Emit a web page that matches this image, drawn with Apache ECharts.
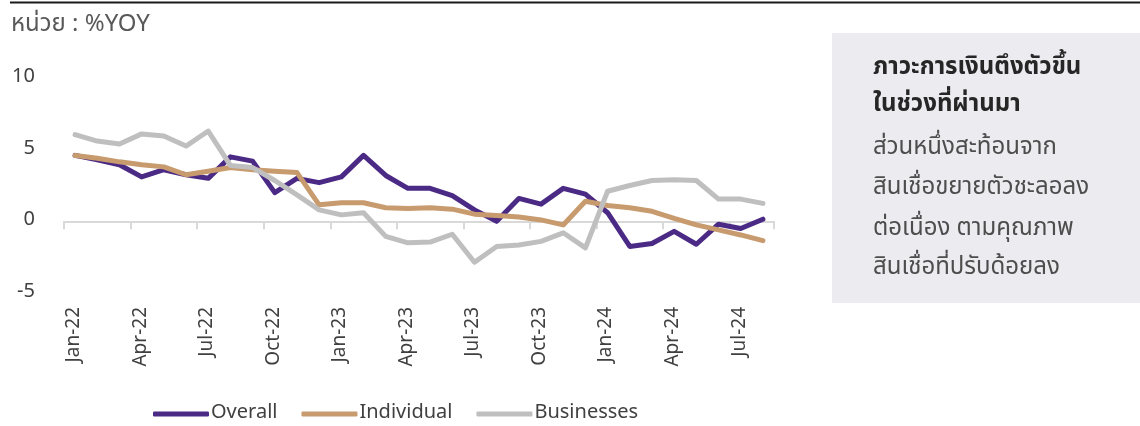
<!DOCTYPE html>
<html>
<head>
<meta charset="utf-8">
<script src="https://cdn.jsdelivr.net/npm/echarts@6/dist/echarts.min.js"></script>
<style>
  html, body { margin: 0; padding: 0; background: #ffffff; }
  #chart { width: 1140px; height: 426px; }
</style>
</head>
<body>
<div id="chart"></div>
<script>
// Monthly categories, Jan-22 .. Aug-24
const months = [
  'Jan-22','Feb-22','Mar-22','Apr-22','May-22','Jun-22','Jul-22','Aug-22','Sep-22','Oct-22','Nov-22','Dec-22',
  'Jan-23','Feb-23','Mar-23','Apr-23','May-23','Jun-23','Jul-23','Aug-23','Sep-23','Oct-23','Nov-23','Dec-23',
  'Jan-24','Feb-24','Mar-24','Apr-24','May-24','Jun-24','Jul-24','Aug-24'
];

// Loan growth, %YOY
const overall = [
  4.6, 4.3, 3.95, 3.1, 3.6, 3.25, 3.0, 4.5, 4.2, 2.0, 3.0, 2.7,
  3.1, 4.6, 3.2, 2.3, 2.3, 1.8, 0.8, 0.0, 1.6, 1.2, 2.3, 1.9,
  0.6, -1.75, -1.55, -0.7, -1.6, -0.2, -0.5, 0.15
];
const individual = [
  4.6, 4.4, 4.15, 3.95, 3.8, 3.25, 3.5, 3.75, 3.6, 3.5, 3.4, 1.15,
  1.3, 1.3, 0.95, 0.9, 0.95, 0.85, 0.5, 0.4, 0.3, 0.1, -0.25, 1.4,
  1.1, 0.95, 0.7, 0.2, -0.25, -0.6, -0.95, -1.35
];
const businesses = [
  6.05, 5.6, 5.4, 6.1, 5.95, 5.25, 6.3, 3.9, 3.75, 2.85, 1.85, 0.8,
  0.45, 0.6, -1.05, -1.5, -1.45, -0.9, -2.85, -1.75, -1.65, -1.4, -0.8, -1.85,
  2.1, 2.5, 2.85, 2.9, 2.85, 1.55, 1.55, 1.25
];

const seriesNames = ['Overall', 'Individual', 'Businesses'];
const unitLabel = 'หน่วย : %YOY';
const noteBold = ['ภาวะการเงินตึงตัวขึ้น', 'ในช่วงที่ผ่านมา'];
const noteBody = ['ส่วนหนึ่งสะท้อนจาก', 'สินเชื่อขยายตัวชะลอลง', 'ต่อเนื่อง ตามคุณภาพ', 'สินเชื่อที่ปรับด้อยลง'];

const FONT = "'Liberation Sans Narrow', 'Noto Sans Thai', 'Noto Sans', sans-serif";
const COLORS = ['#4B2A85', '#C89B6E', '#BFBFBF'];

const chart = echarts.init(document.getElementById('chart'), null, { renderer: 'canvas' });

// Side note: two bold lines, then the body text
const noteY = [66, 103, 146, 186, 227, 266];
const noteTexts = [];
noteBold.concat(noteBody).forEach((t, i) => {
  noteTexts.push({
    type: 'text',
    left: 873,
    top: noteY[i] - 9,
    style: {
      text: t,
      fontFamily: FONT,
      fontSize: 24,
      fontWeight: i < noteBold.length ? 'bold' : 'normal',
      fill: i < noteBold.length ? '#262626' : '#4d4d4d'
    }
  });
});

const lineSeries = [overall, individual, businesses].map((d, i) => ({
  name: seriesNames[i],
  type: 'line',
  xAxisIndex: 0,
  yAxisIndex: 0,
  data: d,
  symbol: 'none',
  smooth: false,
  lineStyle: { width: 5, color: COLORS[i], cap: 'round', join: 'round' },
  itemStyle: { color: COLORS[i] },
  emphasis: { disabled: true },
  animation: false
}));

chart.setOption({
  animation: false,
  textStyle: { fontFamily: FONT },
  grid: { left: 64, right: 366, top: 78, height: 215, containLabel: false },
  xAxis: [
    {
      type: 'category',
      data: months,
      boundaryGap: true,
      axisLine: { onZero: true, lineStyle: { color: '#d9d9d9', width: 2 } },
      axisTick: { show: true, interval: 2, length: 8, lineStyle: { color: '#d9d9d9', width: 2 } },
      axisLabel: { show: false },
      splitLine: { show: false }
    },
    {
      type: 'category',
      data: months,
      boundaryGap: true,
      position: 'bottom',
      axisLine: { show: false },
      axisTick: { show: false },
      splitLine: { show: false },
      axisLabel: {
        interval: 2,
        rotate: 90,
        margin: 14,
        fontSize: 19,
        color: '#404040',
        fontFamily: FONT
      }
    }
  ],
  yAxis: {
    type: 'value',
    min: -5,
    max: 10,
    interval: 5,
    axisLine: { show: false },
    axisTick: { show: false },
    splitLine: { show: false },
    axisLabel: { fontSize: 20, color: '#404040', margin: 29, fontFamily: FONT }
  },
  legend: {
    data: seriesNames,
    left: 148,
    top: 399,
    itemWidth: 56,
    itemHeight: 5,
    itemGap: 24,
    icon: 'roundRect',
    textStyle: { fontSize: 20, color: '#404040', fontFamily: FONT, padding: [0, 0, 0, -3] }
  },
  graphic: [
    {
      type: 'line',
      shape: { x1: 10, y1: 2.5, x2: 1140, y2: 2.5 },
      style: { stroke: '#1a1a1a', lineWidth: 2 }
    },
    {
      type: 'text',
      left: 11,
      top: 14,
      style: { text: unitLabel, fontFamily: FONT, fontSize: 24, fill: '#595959' }
    },
    {
      type: 'rect',
      shape: { x: 832, y: 33, width: 308, height: 270 },
      style: { fill: '#ebebf0' },
      z: -1
    }
  ].concat(noteTexts),
  series: lineSeries
});
</script>
</body>
</html>
